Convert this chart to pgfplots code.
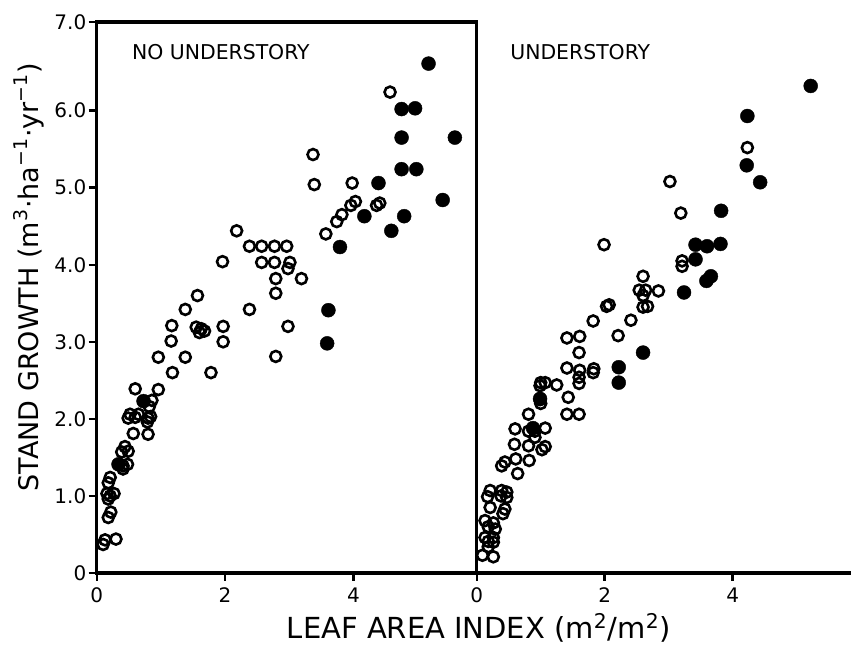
\documentclass[border=0pt]{standalone}
\usepackage{pgfplots}
\pgfplotsset{compat=1.18}
\usepackage{pgfplotstable}
\usepackage{fontspec}
\setmainfont{DejaVu Sans}

\pgfplotstableread{
x y
4.57 6.24
3.37 5.43
3.39 5.04
3.98 5.06
4.03 4.82
3.96 4.77
4.41 4.80
4.36 4.77
3.82 4.65
3.74 4.56
3.57 4.40
2.18 4.44
2.38 4.24
2.57 4.24
2.77 4.24
2.96 4.24
1.96 4.04
2.57 4.03
2.77 4.03
3.01 4.03
2.98 3.95
2.79 3.82
3.19 3.82
2.79 3.63
1.57 3.60
1.38 3.42
2.38 3.42
1.17 3.21
1.55 3.19
1.63 3.17
1.60 3.12
1.68 3.14
1.97 3.20
2.98 3.20
1.16 3.01
1.97 3.00
0.96 2.80
1.38 2.80
2.79 2.81
1.18 2.60
1.78 2.60
0.60 2.39
0.96 2.38
0.86 2.24
0.82 2.16
0.52 2.06
0.49 2.01
0.60 2.02
0.65 2.06
0.80 2.01
0.84 2.03
0.79 1.96
0.57 1.81
0.80 1.80
0.44 1.64
0.39 1.57
0.49 1.58
0.41 1.39
0.48 1.41
0.41 1.35
0.21 1.24
0.18 1.17
0.16 1.03
0.21 1.00
0.27 1.03
0.18 0.96
0.22 0.79
0.18 0.72
0.13 0.43
0.10 0.37
0.30 0.44
}\leftopen

\pgfplotstableread{
x y
5.17 6.61
4.75 6.02
4.96 6.03
4.75 5.65
5.58 5.65
4.75 5.24
4.98 5.24
4.39 5.06
5.39 4.84
4.17 4.63
4.79 4.63
4.59 4.44
3.79 4.23
3.61 3.41
3.59 2.98
0.73 2.23
0.34 1.41
}\leftfilled

\pgfplotstableread{
x y
4.23 5.52
3.02 5.08
3.19 4.67
1.99 4.26
3.21 4.05
3.21 3.98
2.60 3.85
2.54 3.67
2.64 3.67
2.84 3.66
2.60 3.60
2.03 3.46
2.07 3.48
2.60 3.45
2.67 3.46
1.82 3.27
2.41 3.28
1.41 3.05
1.61 3.07
2.21 3.08
1.60 2.86
1.41 2.66
1.61 2.63
1.83 2.65
1.82 2.60
1.60 2.54
1.60 2.46
1.00 2.47
1.07 2.47
0.99 2.43
1.25 2.44
1.43 2.28
0.99 2.25
1.00 2.20
0.81 2.06
1.41 2.06
1.60 2.06
0.60 1.87
0.81 1.84
0.91 1.84
1.07 1.88
0.59 1.67
0.81 1.65
0.91 1.76
1.07 1.64
1.02 1.60
0.39 1.39
0.44 1.44
0.61 1.48
0.82 1.46
0.64 1.29
0.21 1.07
0.17 0.99
0.21 0.85
0.39 1.07
0.47 1.05
0.38 1.00
0.47 0.98
0.44 0.83
0.41 0.77
0.13 0.68
0.26 0.65
0.18 0.60
0.29 0.57
0.13 0.46
0.26 0.46
0.18 0.41
0.26 0.40
0.18 0.34
0.09 0.23
0.26 0.21
}\rightopen

\pgfplotstableread{
x y
5.22 6.32
4.23 5.93
4.22 5.29
4.43 5.07
3.82 4.70
3.42 4.26
3.60 4.24
3.81 4.27
3.42 4.07
3.66 3.85
3.59 3.79
3.24 3.64
2.60 2.86
2.22 2.67
2.22 2.47
0.88 1.88
0.99 2.26
}\rightfilled

\pgfplotsset{
  openpt/.style={only marks, mark=o, mark size=2.75pt, mark options={line width=1.3pt, black}},
  fillpt/.style={only marks, mark=*, mark size=3.5pt, mark options={black, fill=black, line width=0.2pt}},
  common/.style={
    scale only axis,
    ymin=0, ymax=7.15,
    axis line style={line width=1.6pt, black},
    tick style={line width=1.2pt, black},
    major tick length=4pt,
    tick align=outside,
    tick label style={font=\fontsize{10}{12}\selectfont},
    /pgf/number format/assume math mode=true,
    clip=false,
  },
}

\begin{document}
\begin{tikzpicture}
\path[use as bounding box] (0pt,0pt) rectangle (425.5pt,323pt);

\begin{axis}[common,
  at={(48.35pt,36.5pt)}, anchor=south west,
  width=190pt, height=275.5pt,
  xmin=0, xmax=5.92,
  xtick={0,2,4}, xticklabels={0,2,4},
  ytick={0,1,2,3,4,5,6,7.15},
  yticklabels={0,1.0,2.0,3.0,4.0,5.0,6.0,7.0},
  xtick pos=bottom, ytick pos=left,
  yticklabel style={inner sep=1pt},
]
\addplot[fillpt] table[x=x,y=y] {\leftfilled};
\addplot[openpt] table[x=x,y=y] {\leftopen};
\node[anchor=west, font=\fontsize{10.2}{12}\selectfont] at (rel axis cs:0.0745,0.946) {NO UNDERSTORY};
\end{axis}

\begin{axis}[common,
  at={(238.35pt,36.5pt)}, anchor=south west,
  width=187.15pt, height=275.5pt,
  xmin=0, xmax=5.85,
  axis x line*=bottom, axis y line*=left,
  xtick={0,2,4}, xticklabels={0,2,4},
  ytick=\empty,
]
\addplot[fillpt] table[x=x,y=y] {\rightfilled};
\addplot[openpt] table[x=x,y=y] {\rightopen};
\node[anchor=west, font=\fontsize{10.2}{12}\selectfont] at (rel axis cs:0.071,0.946) {UNDERSTORY};
\end{axis}

\node[font=\fontsize{14.5}{17}\selectfont] at (239.5pt,9pt) {LEAF AREA INDEX (m\textsuperscript{2}/m\textsuperscript{2})};
\node[rotate=90, font=\fontsize{13.5}{16}\selectfont] at (14.5pt,184.5pt) {STAND GROWTH (m\textsuperscript{3}·ha\textsuperscript{−1}·yr\textsuperscript{−1})};
\end{tikzpicture}
\end{document}
